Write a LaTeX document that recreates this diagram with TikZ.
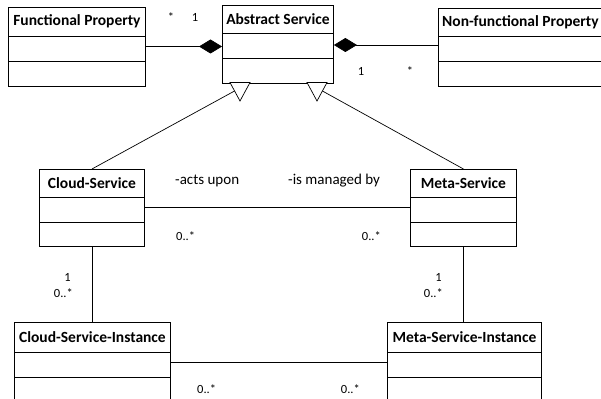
\documentclass[tikz,border=0pt]{standalone}
\usepackage{fontspec}
\setmainfont{Carlito}
\usetikzlibrary{arrows.meta}

% #1 name, #2 x, #3 y (top left), #4 width, #5 height, #6 header height, #7 title
\newcommand\umlclass[7]{%
  \node[classbox, minimum width=#4pt, minimum height=#5pt] (#1) at (#2,#3) {};
  \draw[boxline] ([yshift=-#6pt]#1.north west) -- ([yshift=-#6pt]#1.north east);
  \draw[boxline] ([yshift={-(#6+25)}]#1.north west) -- ([yshift={-(#6+25)}]#1.north east);
  \node[classname] (#1-title) at ([yshift={-0.5*#6}]#1.north) {#7};
}

\begin{document}
\begin{tikzpicture}[x=1pt,y=-1pt,
  boxline/.style={line width=0.9pt},
  classbox/.style={draw, boxline, inner sep=0pt, anchor=north west},
  classname/.style={font=\fontsize{15.5}{17}\selectfont\bfseries, inner sep=0pt},
  link/.style={line width=0.7pt},
  compose/.style={link, -{Diamond[length=23pt,width=14pt]}},
  mult/.style={font=\fontsize{12.5}{14}\selectfont, inner sep=0pt},
  role/.style={font=\fontsize{15}{17}\selectfont, inner sep=0pt, anchor=base west},
  gentri/.style={draw, fill=white, line width=0.7pt, line join=miter}
]
\clip (0,0) rectangle (601,398);

% classes
\umlclass{fp}{8}{7}{137}{79}{29}{Functional Property}
\umlclass{as}{222}{5}{111}{78}{28}{Abstract Service}
\umlclass{nfp}{438}{8}{164}{78}{28}{Non-functional Property}
\umlclass{cs}{39}{169}{105}{77}{28}{Cloud-Service}
\umlclass{ms}{410}{169}{106}{77}{28}{Meta-Service}
\umlclass{csi}{14}{322}{156}{100}{30}{Cloud-Service-Instance}
\umlclass{msi}{387}{322}{154}{100}{30}{Meta-Service-Instance}

% compositions into Abstract Service
\draw[compose] ([yshift=-39.5pt]fp.north east) -- ([yshift=-39.5pt]fp.north east -| as.west);
\draw[compose] ([yshift=-37pt]nfp.north west) -- ([yshift=-37pt]nfp.north west -| as.east);
\node[mult, anchor=base] (m1) at (171,22) {*};
\node[mult, anchor=base] (m2) at (195,22) {1};
\node[mult, anchor=base] (m3) at (361,76) {1};
\node[mult, anchor=base] (m4) at (410,76) {*};

% generalizations
\coordinate (g1) at (240,88);
\coordinate (g2) at (317,88);
\draw[link] (cs.north) -- (g1);
\draw[link] (ms.north) -- (g2);
\filldraw[gentri] (230,82.5) -- (250,82.5) -- (240,101) -- cycle;
\filldraw[gentri] (307,82.5) -- (327,82.5) -- (317,101) -- cycle;

% Cloud-Service -- Meta-Service
\draw[link] ([yshift=-38pt]cs.north east) -- ([yshift=-38pt]cs.north east -| ms.west);
\node[role] (r1) at (175,184) {-acts upon};
\node[role] (r2) at (288,184) {-is managed by};
\node[mult, anchor=base west] (m5) at (176,240) {0..*};
\node[mult, anchor=base east] (m6) at (381,240) {0..*};

% services to instances
\draw[link] (cs.south) -- (cs.south |- csi.north);
\draw[link] (ms.south) -- (ms.south |- msi.north);
\node[mult, anchor=base east] (m7) at (71,281) {1};
\node[mult, anchor=base east] (m8) at (73,297) {0..*};
\node[mult, anchor=base east] (m9) at (442,281) {1};
\node[mult, anchor=base east] (m10) at (443,297) {0..*};

% Cloud-Service-Instance -- Meta-Service-Instance
\draw[link] ([yshift=-40pt]csi.north east) -- ([yshift=-40pt]csi.north east -| msi.west);
\node[mult, anchor=base west] (m11) at (197,393) {0..*};
\node[mult, anchor=base east] (m12) at (360,393) {0..*};
\end{tikzpicture}
\end{document}
